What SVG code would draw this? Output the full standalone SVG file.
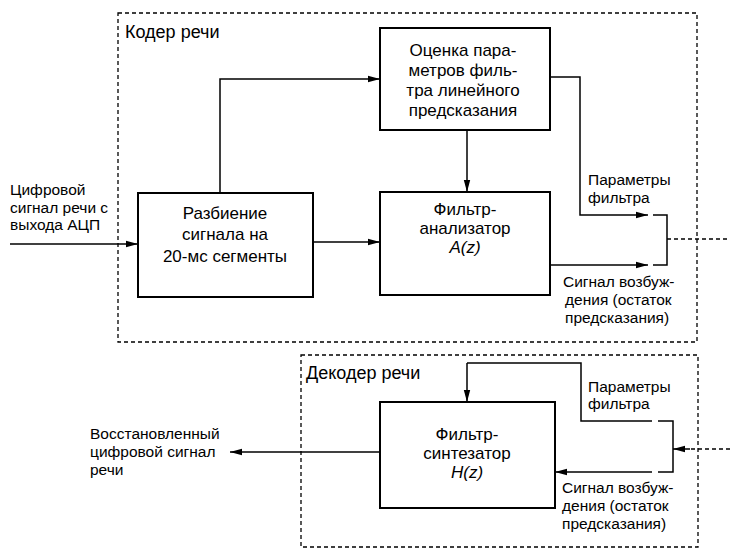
<svg xmlns="http://www.w3.org/2000/svg" width="730" height="557" viewBox="0 0 730 557">
<defs>
<style>
.box{fill:#fff;stroke:#000;stroke-width:2}
.frame{fill:none;stroke:#000;stroke-width:1.3;stroke-dasharray:4 3}
.ln{fill:none;stroke:#000;stroke-width:1.5}
.dl{fill:none;stroke:#000;stroke-width:1.3;stroke-dasharray:4 3}
text{font-family:"Liberation Sans",Arial,sans-serif;fill:#000}
.bt{font-size:17px;text-anchor:middle}
.lb{font-size:15.5px}
.tt{font-size:18px}
</style>
<marker id="ah" markerWidth="12" markerHeight="8" refX="12" refY="4" orient="auto" markerUnits="userSpaceOnUse">
<path d="M0,0.8 L12,4 L0,7.2 z" fill="#000"/>
</marker>
</defs>
<rect width="730" height="557" fill="#fff"/>
<g id="encoder">
<rect class="frame" x="118" y="13" width="579" height="329"/>
<text class="tt" x="125" y="38">Кодер речи</text>
</g>
<g id="decoder">
<rect class="frame" x="301" y="355" width="397" height="192"/>
<text class="tt" x="306" y="379">Декодер речи</text>
</g>
<g id="split">
<rect class="box" x="138" y="193" width="175" height="104"/>
<text class="bt" x="225" y="219">Разбиение</text>
<text class="bt" x="225" y="240">сигнала на</text>
<text class="bt" x="225" y="262">20-мс сегменты</text>
</g>
<g id="estimate">
<rect class="box" x="380" y="28" width="170" height="102"/>
<text class="bt" x="463" y="56">Оценка пара-</text>
<text class="bt" x="463" y="76">метров филь-</text>
<text class="bt" x="463" y="96">тра линейного</text>
<text class="bt" x="463" y="116">предсказания</text>
</g>
<g id="analyzer">
<rect class="box" x="380" y="192" width="170" height="103"/>
<text class="bt" x="465" y="215">Фильтр-</text>
<text class="bt" x="465" y="234">анализатор</text>
<text class="bt" x="465" y="253" font-style="italic">A(z)</text>
</g>
<g id="synth">
<rect class="box" x="380" y="402" width="175" height="106"/>
<text class="bt" x="467" y="440">Фильтр-</text>
<text class="bt" x="467" y="459">синтезатор</text>
<text class="bt" x="467" y="478" font-style="italic">H(z)</text>
</g>
<g id="labels">
<text class="lb" x="10" y="195">Цифровой</text>
<text class="lb" x="10" y="213">сигнал речи с</text>
<text class="lb" x="10" y="230">выхода АЦП</text>
<text class="lb" x="588" y="185">Параметры</text>
<text class="lb" x="588" y="203">фильтра</text>
<text class="lb" x="563" y="287">Сигнал возбуж-</text>
<text class="lb" x="565" y="305">дения (остаток</text>
<text class="lb" x="565" y="323">предсказания)</text>
<text class="lb" x="588" y="392">Параметры</text>
<text class="lb" x="588" y="409">фильтра</text>
<text class="lb" x="562" y="493">Сигнал возбуж-</text>
<text class="lb" x="562" y="511">дения (остаток</text>
<text class="lb" x="562" y="529">предсказания)</text>
<text class="lb" x="90" y="439">Восстановленный</text>
<text class="lb" x="90" y="457">цифровой сигнал</text>
<text class="lb" x="90" y="475">речи</text>
</g>
<g id="connectors">
<path class="ln" d="M10,244 H138" marker-end="url(#ah)"/>
<path class="ln" d="M220,193 V79 H380" marker-end="url(#ah)"/>
<path class="ln" d="M313,242 H380" marker-end="url(#ah)"/>
<path class="ln" d="M467,130 V192" marker-end="url(#ah)"/>
<path class="ln" d="M550,77 H580 V215 H648" marker-end="url(#ah)"/>
<path class="ln" d="M550,265 H648" marker-end="url(#ah)"/>
<path class="ln" d="M653,215 H667 V265 H653"/>
<path class="dl" d="M667,239 H730"/>
<path class="ln" d="M467,363 H581 V421 H652"/>
<path class="ln" d="M467,363 V402" marker-end="url(#ah)"/>
<path class="ln" d="M658,421 H673 V472 H658"/>
<path class="ln" d="M652,472 H555" marker-end="url(#ah)"/>
<path class="dl" d="M730,449 H690"/>
<path class="ln" d="M690,449 H673" marker-end="url(#ah)"/>
<path class="ln" d="M380,452 H230" marker-end="url(#ah)"/>
</g>
</svg>
